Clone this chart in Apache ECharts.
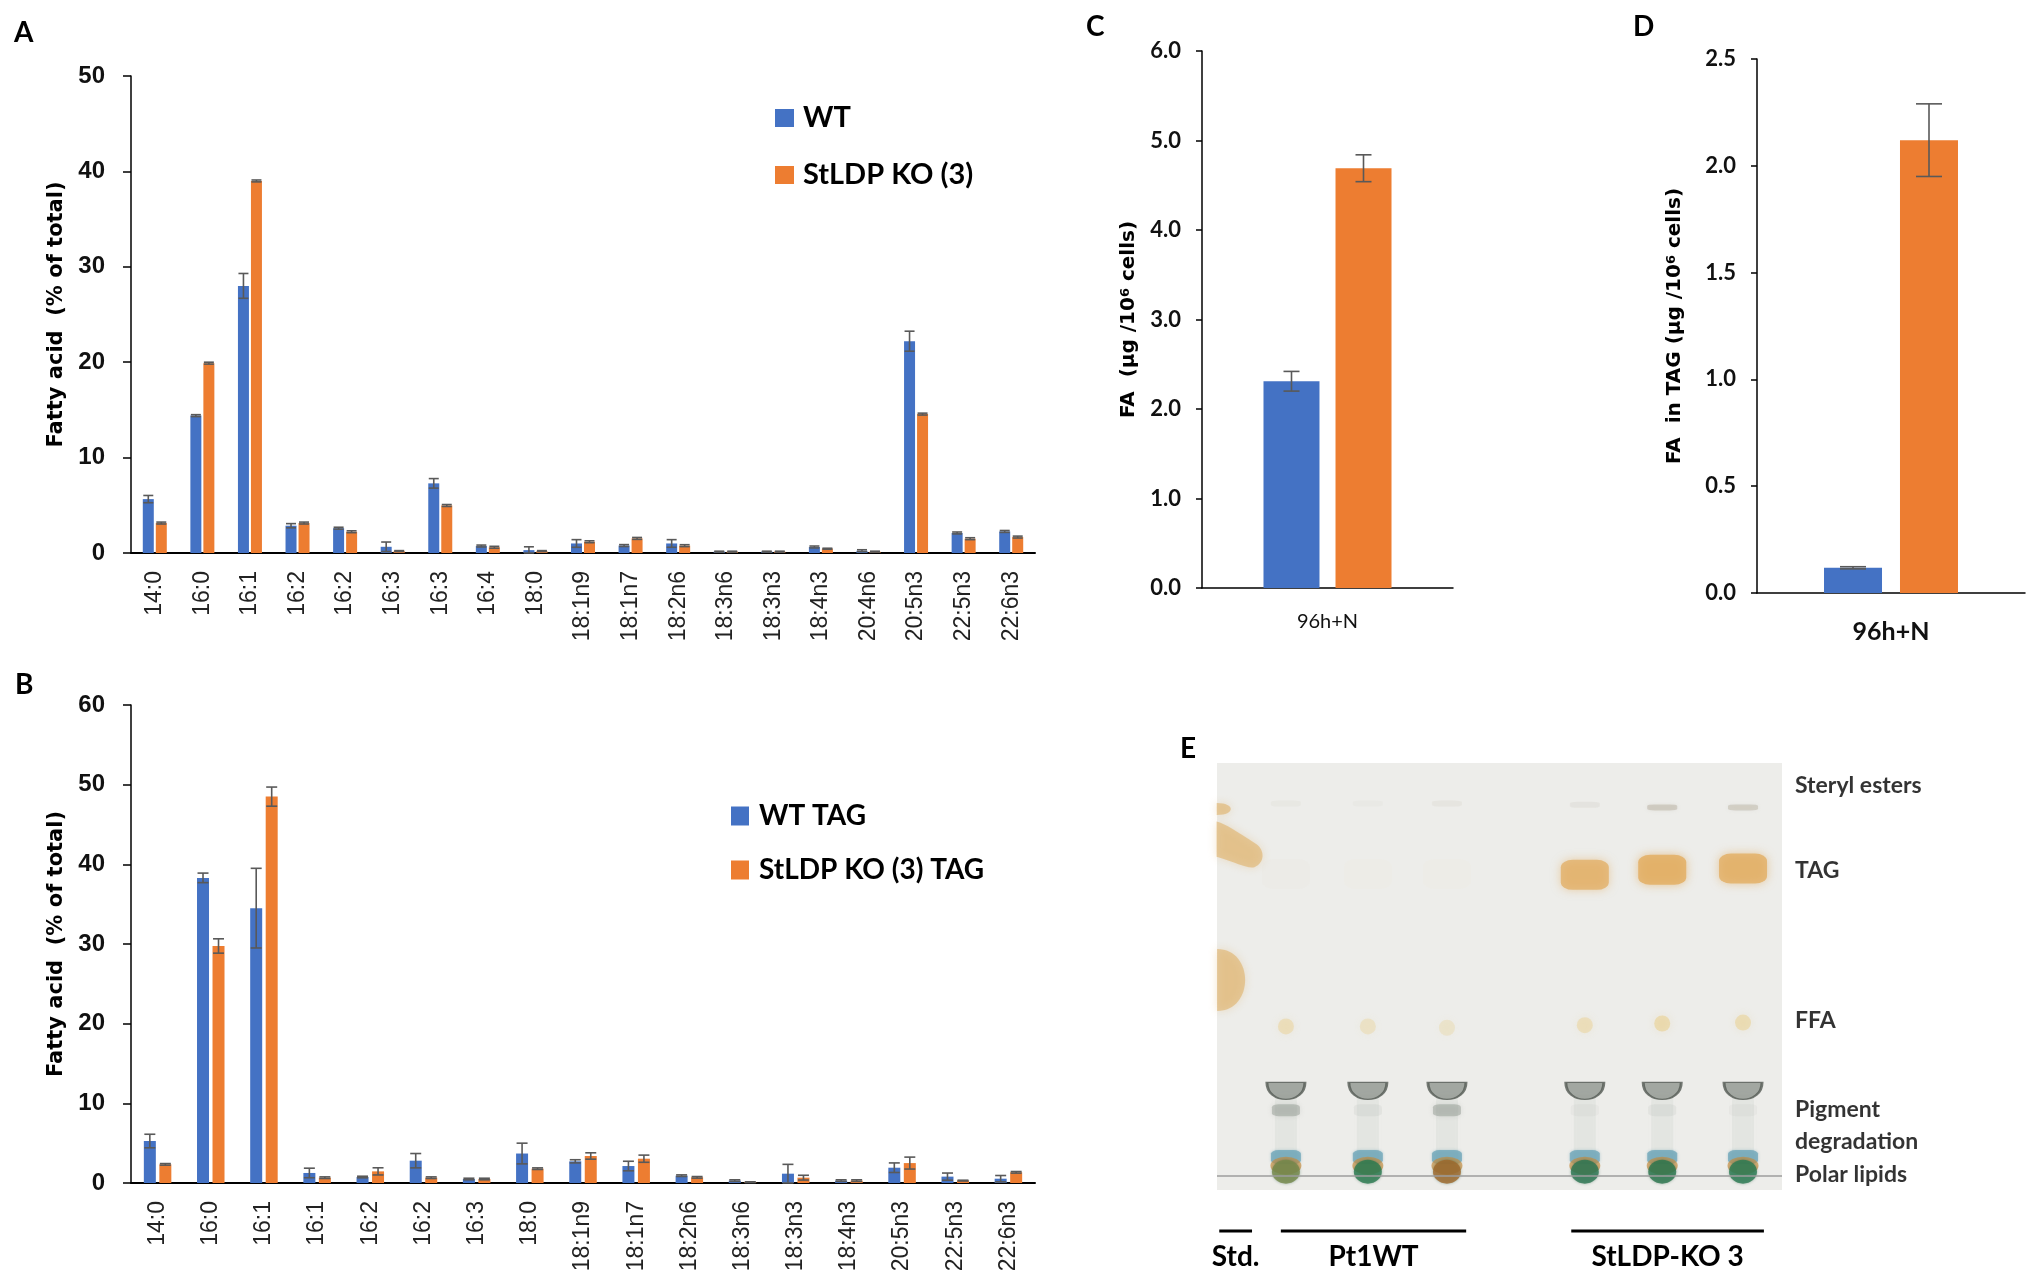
<!DOCTYPE html>
<html>
<head>
<meta charset="utf-8">
<script src="https://cdn.jsdelivr.net/npm/echarts@6.0.0/dist/echarts.min.js"></script>
<style>
  html, body { margin: 0; padding: 0; background: #fff; }
  #main { width: 2033px; height: 1287px; }
</style>
</head>
<body>
<div id="main"></div>
<script>
// ---- panel A : fatty acid profile, % of total
var catsA = ['14:0', '16:0', '16:1', '16:2', '16:2', '16:3', '16:3', '16:4', '18:0', '18:1n9', '18:1n7', '18:2n6', '18:3n6', '18:3n3', '18:4n3', '20:4n6', '20:5n3', '22:5n3', '22:6n3'];
var wtA     = [5.65, 14.4, 28.0, 2.86, 2.6, 0.65, 7.3, 0.73, 0.3, 1.0, 0.78, 1.0, 0.14, 0.14, 0.63, 0.24, 22.2, 2.1, 2.26];
var wtErrA  = [0.38, 0.1, 1.3, 0.22, 0.1, 0.5, 0.5, 0.1, 0.35, 0.4, 0.1, 0.4, 0.05, 0.05, 0.1, 0.1, 1.05, 0.1, 0.1];
var koA     = [3.14, 19.9, 39.0, 3.14, 2.23, 0.2, 4.98, 0.6, 0.2, 1.18, 1.53, 0.77, 0.14, 0.14, 0.45, 0.14, 14.56, 1.5, 1.67];
var koErrA  = [0.1, 0.1, 0.1, 0.1, 0.1, 0.05, 0.1, 0.1, 0.05, 0.1, 0.1, 0.1, 0.05, 0.05, 0.05, 0.05, 0.1, 0.1, 0.1];

// ---- panel B : fatty acids in TAG, % of total
var catsB = ['14:0', '16:0', '16:1', '16:1', '16:2', '16:2', '16:3', '18:0', '18:1n9', '18:1n7', '18:2n6', '18:3n6', '18:3n3', '18:4n3', '20:5n3', '22:5n3', '22:6n3'];
var wtB     = [5.27, 38.3, 34.5, 1.26, 0.75, 2.8, 0.5, 3.7, 2.72, 2.13, 0.92, 0.3, 1.17, 0.3, 1.92, 0.8, 0.54];
var wtErrB  = [0.85, 0.6, 5.0, 0.6, 0.1, 0.9, 0.1, 1.3, 0.2, 0.6, 0.1, 0.1, 1.17, 0.1, 0.6, 0.45, 0.4];
var koB     = [2.34, 29.75, 48.5, 0.67, 1.46, 0.67, 0.5, 1.8, 3.39, 3.05, 0.71, 0.1, 0.67, 0.3, 2.5, 0.3, 1.34];
var koErrB  = [0.1, 0.9, 1.2, 0.1, 0.45, 0.1, 0.1, 0.1, 0.4, 0.45, 0.1, 0.05, 0.3, 0.1, 0.75, 0.05, 0.1];

// ---- panels C and D : totals per 10^6 cells
var catsCD  = ['96h+N'];
var wtC     = [2.31];
var wtErrC  = [0.11];
var koC     = [4.69];
var koErrC  = [0.15];
var wtD     = [0.118];
var wtErrD  = [0.005];
var koD     = [2.12];
var koErrD  = [0.17];

// ---- panel E : TLC plate (x = lane position on plate %, y = Rf %)
var laneX        = [12.2, 26.7, 40.7, 65.1, 78.8, 93.1];
var sterylRf     = [90.5, 90.5, 90.5, 90.2, 89.6, 89.6];
var sterylAmt    = [0.08, 0.05, 0.1, 0.12, 0.45, 0.4];
var tagRf        = [74.0, 74.0, 74.0, 73.8, 75.0, 75.3];
var tagAmt       = [0.025, 0.02, 0.02, 0.9, 1.0, 0.95];
var ffaRf        = [38.3, 38.3, 38.0, 38.6, 39.0, 39.2];
var ffaAmt       = [0.45, 0.35, 0.3, 0.45, 0.55, 0.5];
var pigmentRf    = [23.2, 23.2, 23.2, 23.2, 23.2, 23.2];
var pigLowAmt    = [0.55, 0.12, 0.55, 0.08, 0.12, 0.08];
var polarRf      = [4.3, 4.3, 4.3, 4.3, 4.3, 4.3];
var stdSpots     = [[1.2, 89.2], [4.0, 80.9], [2.5, 49.2]];
var bandNames    = ['Steryl esters', 'TAG', 'FFA', 'Pigment\ndegradation', 'Polar lipids'];
var bandLabelRf  = [94.6, 74.7, 39.6, 15.0, 3.5];
var groupNames   = ['Std.', 'Pt1WT', 'StLDP-KO 3'];
var groupSpans   = [[0.4, 6.2], [11.3, 44.1], [62.7, 96.8]];

var BLUE = '#4472C4';
var ORANGE = '#ED7D31';
var ERR = '#595959';
var fArial = 'Liberation Sans, Arial, sans-serif';
var fDV = 'DejaVu Sans, Verdana, sans-serif';
var fLato = 'Lato, Calibri, sans-serif';

// error bars drawn on top of grouped bars
function errSeries(axis, vals, errs, offset, cap) {
  return {
    type: 'custom',
    xAxisIndex: axis,
    yAxisIndex: axis,
    silent: true,
    z: 5,
    data: vals.map(function (v, i) { return [i, v, errs[i]]; }),
    encode: { x: 0, y: 1 },
    renderItem: function (params, api) {
      var i = api.value(0), v = api.value(1), e = api.value(2);
      var hi = api.coord([i, v + e]);
      var lo = api.coord([i, Math.max(0, v - e)]);
      var x = hi[0] + offset;
      var st = { stroke: ERR, lineWidth: 1.6 };
      return {
        type: 'group',
        children: [
          { type: 'line', shape: { x1: x, y1: hi[1], x2: x, y2: lo[1] }, style: st },
          { type: 'line', shape: { x1: x - cap / 2, y1: hi[1], x2: x + cap / 2, y2: hi[1] }, style: st },
          { type: 'line', shape: { x1: x - cap / 2, y1: lo[1], x2: x + cap / 2, y2: lo[1] }, style: st }
        ]
      };
    }
  };
}

function barPair(axis, names, wt, wtErr, ko, koErr, w, gap, cap) {
  var g = (gap / w * 100).toFixed(1) + '%';
  var off = (w + gap) / 2;
  return [
    { type: 'bar', name: names[0], xAxisIndex: axis, yAxisIndex: axis, data: wt, barWidth: w, barGap: g, itemStyle: { color: BLUE }, z: 2 },
    { type: 'bar', name: names[1], xAxisIndex: axis, yAxisIndex: axis, data: ko, barWidth: w, barGap: g, itemStyle: { color: ORANGE }, z: 2 },
    errSeries(axis, wt, wtErr, -off, cap),
    errSeries(axis, ko, koErr, off, cap)
  ];
}

function catAxis(grid, cats) {
  return {
    gridIndex: grid, type: 'category', data: cats,
    axisLine: { lineStyle: { color: '#000', width: 2 } },
    axisTick: { show: false },
    axisLabel: { interval: 0, rotate: 90, margin: 18, fontSize: 23, fontFamily: fArial, color: '#222' }
  };
}

function valAxis(grid, max, step, nameText, gap, big) {
  return {
    gridIndex: grid, type: 'value', min: 0, max: max, interval: step,
    splitLine: { show: false },
    axisLine: { show: true, lineStyle: { color: '#000', width: 1.5 } },
    axisTick: { show: true, inside: false, length: big ? 8 : 6, lineStyle: { color: '#000', width: 1.5 } },
    axisLabel: big
      ? { margin: 26, fontSize: 24, fontWeight: 'bold', fontFamily: fArial, color: '#111' }
      : { margin: 21, fontSize: 22, fontWeight: 'bold', fontFamily: fLato, color: '#111',
          formatter: function (v) { return v.toFixed(1); } },
    name: nameText,
    nameLocation: 'middle',
    nameGap: gap,
    nameTextStyle: {
      fontSize: big ? 21 : 20, fontWeight: 'bold', fontFamily: fDV, color: '#000',
      rich: { sup: { fontSize: 13, fontWeight: 'bold', fontFamily: fDV, color: '#000', verticalAlign: 'top' } }
    }
  };
}

// spot helper for the plate
function spots(xs, ys, amt, color, size, symbol, blur) {
  return xs.map(function (x, i) {
    var a = amt ? amt[i] : 1;
    return {
      value: [x, ys[i]],
      symbol: symbol,
      symbolSize: size,
      itemStyle: {
        color: 'rgba(' + color + ',' + a.toFixed(3) + ')',
        shadowBlur: blur || 0,
        shadowColor: 'rgba(' + color + ',' + (a * 0.8).toFixed(3) + ')'
      }
    };
  });
}

var halfMoon = 'path://M0,0 L40,0 C40,22 0,22 0,0 Z';
var rightHalf = 'path://M0,0 C36,0 36,60 0,60 Z';
var smear = 'path://M0,0 C8,2 20,10 38,22 C46,28 46,40 36,44 C30,46 20,40 0,34 Z';
var polarGreen = ['#75884a', '#2a7a50', '#a0682a', '#2c7652', '#2a764e', '#2b7a52'];

var plateSeries = [
  { type: 'scatter', xAxisIndex: 4, yAxisIndex: 4, silent: true, z: 1,
    data: laneX.map(function (x) { return [x, 13]; }),
    symbol: 'rect', symbolSize: [22, 80],
    itemStyle: { color: 'rgba(170,182,176,0.16)', shadowBlur: 10, shadowColor: 'rgba(170,182,176,0.12)' } },
  { type: 'scatter', xAxisIndex: 4, yAxisIndex: 4, silent: true, z: 2,
    data: spots(laneX, sterylRf, sterylAmt, '165,155,135', [30, 6], 'roundRect', 4) },
  { type: 'scatter', xAxisIndex: 4, yAxisIndex: 4, silent: true, z: 2,
    data: spots(laneX, tagRf, tagAmt, '226,172,95', [48, 30], 'roundRect', 10) },
  { type: 'scatter', xAxisIndex: 4, yAxisIndex: 4, silent: true, z: 2,
    data: spots(laneX, ffaRf, ffaAmt, '232,200,118', 16, 'circle', 8) },
  { type: 'scatter', xAxisIndex: 4, yAxisIndex: 4, silent: true, z: 2,
    data: spots(laneX, pigmentRf.map(function (r) { return r - 4.5; }), pigLowAmt, '140,148,140', [28, 12], 'roundRect', 5) },
  { type: 'scatter', xAxisIndex: 4, yAxisIndex: 4, silent: true, z: 3,
    data: laneX.map(function (x, i) { return [x, pigmentRf[i]]; }),
    symbol: halfMoon, symbolSize: [38, 17],
    itemStyle: { color: '#8f958e', borderColor: '#545a54', borderWidth: 2 } },
  { type: 'scatter', xAxisIndex: 4, yAxisIndex: 4, silent: true, z: 3,
    data: laneX.map(function (x, i) { return [x, polarRf[i] + 3.4]; }),
    symbol: 'roundRect', symbolSize: [30, 14],
    itemStyle: { color: 'rgba(100,160,180,0.85)', shadowBlur: 3, shadowColor: 'rgba(100,160,180,0.6)' } },
  { type: 'scatter', xAxisIndex: 4, yAxisIndex: 4, silent: true, z: 4,
    data: laneX.map(function (x, i) { return [x, polarRf[i] + 1.4]; }),
    symbol: 'circle', symbolSize: [31, 18],
    itemStyle: { color: 'rgba(198,139,60,0.85)' } },
  { type: 'scatter', xAxisIndex: 4, yAxisIndex: 4, silent: true, z: 5,
    data: laneX.map(function (x, i) { return { value: [x, polarRf[i]], itemStyle: { color: polarGreen[i] } }; }),
    symbol: 'circle', symbolSize: [28, 24],
    itemStyle: { shadowBlur: 3, shadowColor: 'rgba(40,90,60,0.5)' } },
  { type: 'scatter', xAxisIndex: 4, yAxisIndex: 4, silent: true, z: 2,
    data: [
      { value: stdSpots[0], symbol: rightHalf, symbolSize: [14, 12] },
      { value: stdSpots[1], symbol: smear, symbolSize: [46, 46] },
      { value: stdSpots[2], symbol: rightHalf, symbolSize: [28, 62] }
    ],
    itemStyle: { color: 'rgba(222,176,100,0.72)', shadowBlur: 8, shadowColor: 'rgba(222,176,100,0.55)' } },
  { type: 'line', xAxisIndex: 4, yAxisIndex: 4, silent: true, z: 6, symbol: 'none',
    data: [[0, 3.3], [100, 3.3]],
    lineStyle: { color: '#9c9c9c', width: 1.5 } },
  { type: 'scatter', xAxisIndex: 4, yAxisIndex: 4, silent: true, clip: false, z: 6,
    symbolSize: 0,
    data: bandNames.map(function (n, i) { return { name: n, value: [100, bandLabelRf[i]] }; }),
    label: {
      show: true, position: 'right', distance: 13, formatter: '{b}',
      fontFamily: fLato, fontWeight: 'bold', fontSize: 23, lineHeight: 32, color: '#000', align: 'left'
    } },
  { type: 'custom', xAxisIndex: 4, yAxisIndex: 4, silent: true, clip: false, z: 6,
    data: groupSpans.map(function (s, i) { return [s[0], s[1], i]; }),
    encode: { x: [0, 1] },
    renderItem: function (params, api) {
      var a = api.coord([api.value(0), -9.6]);
      var b = api.coord([api.value(1), -9.6]);
      var name = groupNames[api.value(2)];
      return {
        type: 'group',
        children: [
          { type: 'line', shape: { x1: a[0], y1: a[1], x2: b[0], y2: b[1] }, style: { stroke: '#000', lineWidth: 3 } },
          { type: 'text', x: (a[0] + b[0]) / 2, y: a[1] + 26,
            style: { text: name, fill: '#000', font: 'bold 28px ' + fLato, align: 'center', verticalAlign: 'middle' } }
        ]
      };
    } }
];

var option = {
  backgroundColor: '#fff',
  animation: false,
  grid: [
    { left: 131, top: 76, width: 904, height: 477, outerBoundsMode: 'none' },
    { left: 131, top: 705, width: 904, height: 478, outerBoundsMode: 'none' },
    { left: 1202, top: 51, width: 251, height: 537, outerBoundsMode: 'none' },
    { left: 1757, top: 59, width: 268, height: 534, outerBoundsMode: 'none' },
    { left: 1217, top: 763, width: 565, height: 427, outerBoundsMode: 'none',
      show: true, backgroundColor: '#ededea', borderWidth: 0 }
  ],
  legend: [
    { data: ['WT', 'StLDP KO (3)'], orient: 'vertical', left: 770, top: 98, itemGap: 27,
      itemWidth: 19, itemHeight: 18, icon: 'rect', selectedMode: false,
      textStyle: { fontFamily: fLato, fontWeight: 'bold', fontSize: 29, lineHeight: 30, color: '#000', padding: [0, 0, 0, 4] } },
    { data: ['WT TAG', 'StLDP KO (3) TAG'], orient: 'vertical', left: 726, top: 796, itemGap: 24,
      itemWidth: 18, itemHeight: 19, icon: 'rect', selectedMode: false,
      textStyle: { fontFamily: fLato, fontWeight: 'bold', fontSize: 28, lineHeight: 30, color: '#000', padding: [0, 0, 0, 5] } }
  ],
  xAxis: [
    catAxis(0, catsA),
    catAxis(1, catsB),
    { gridIndex: 2, type: 'category', data: catsCD,
      axisLine: { lineStyle: { color: '#000', width: 1.5 } }, axisTick: { show: false },
      axisLabel: { margin: 24, fontSize: 20, fontFamily: fLato, color: '#111' } },
    { gridIndex: 3, type: 'category', data: catsCD,
      axisLine: { lineStyle: { color: '#000', width: 1.5 } }, axisTick: { show: false },
      axisLabel: { margin: 26, fontSize: 25, fontWeight: 'bold', fontFamily: fLato, color: '#111' } },
    { gridIndex: 4, type: 'value', min: 0, max: 100, show: false }
  ],
  yAxis: [
    valAxis(0, 50, 10, 'Fatty acid  (% of total)', 64, true),
    valAxis(1, 60, 10, 'Fatty acid  (% of total)', 64, true),
    valAxis(2, 6, 1, 'FA  (\u00b5g /10{sup|6} cells)', 63, false),
    valAxis(3, 2.5, 0.5, 'FA  in TAG (\u00b5g /10{sup|6} cells)', 72, false),
    { gridIndex: 4, type: 'value', min: 0, max: 100, show: false }
  ],
  series: []
    .concat(barPair(0, ['WT', 'StLDP KO (3)'], wtA, wtErrA, koA, koErrA, 11, 2, 10))
    .concat(barPair(1, ['WT TAG', 'StLDP KO (3) TAG'], wtB, wtErrB, koB, koErrB, 12, 3.5, 11))
    .concat(barPair(2, ['WT', 'StLDP KO (3)'], wtC, wtErrC, koC, koErrC, 56, 16, 16))
    .concat(barPair(3, ['WT', 'StLDP KO (3)'], wtD, wtErrD, koD, koErrD, 58, 18, 26))
    .concat(plateSeries),
  graphic: [
    { type: 'text', x: 14, y: 33, style: { text: 'A', fill: '#000', font: 'bold 28px ' + fLato, verticalAlign: 'middle' } },
    { type: 'text', x: 15, y: 685, style: { text: 'B', fill: '#000', font: 'bold 28px ' + fLato, verticalAlign: 'middle' } },
    { type: 'text', x: 1086, y: 27, style: { text: 'C', fill: '#000', font: 'bold 28px ' + fLato, verticalAlign: 'middle' } },
    { type: 'text', x: 1633, y: 27, style: { text: 'D', fill: '#000', font: 'bold 28px ' + fLato, verticalAlign: 'middle' } },
    { type: 'text', x: 1180, y: 749, style: { text: 'E', fill: '#000', font: 'bold 28px ' + fLato, verticalAlign: 'middle' } }
  ]
};

var chart = echarts.init(document.getElementById('main'), null, { renderer: 'canvas' });
chart.setOption(option);
</script>
</body>
</html>
